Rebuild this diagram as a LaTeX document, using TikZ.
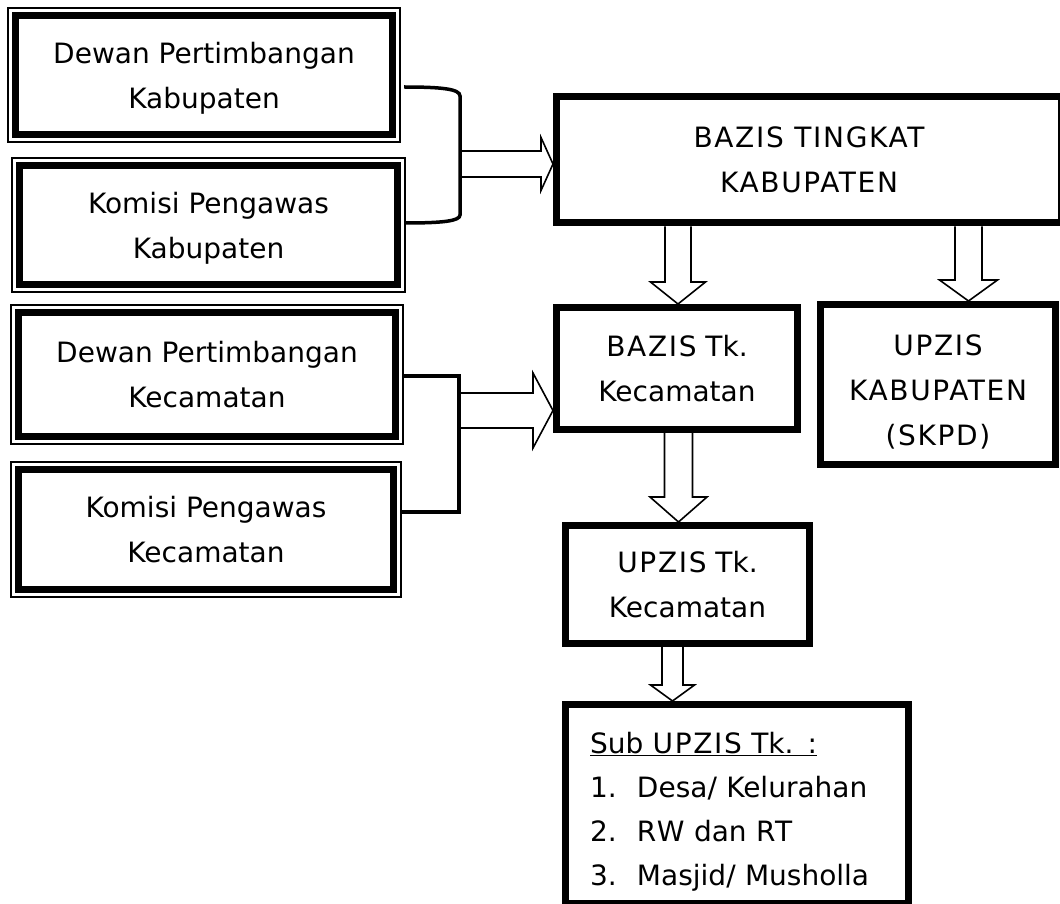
\documentclass[tikz,border=0pt]{standalone}
\usepackage{fontspec}
\setmainfont{DejaVu Sans}
\newfontfamily\hurufbesar[LetterSpace=6.0]{DejaVu Sans}
\usetikzlibrary{calc}
\tikzset{
  kotak/.style={rectangle, draw, line width=7pt, outer sep=0pt, align=center, text depth=0pt,
                font=\fontsize{28pt}{45pt}\selectfont},
  garistipis/.style={line width=1.2pt},
  kurung/.style={line width=3.5pt},
  panah/.style={line width=1.6pt, line join=miter}
}
% panah kosong ke bawah: awal, ujung, setengah batang, setengah kepala, panjang kepala
\newcommand{\panahbawah}[5]{%
  \draw[panah] ($(#2 |- #1)+(-#3,0)$) -- ($(#2)+(-#3,-#5)$) -- ($(#2)+(-#4,-#5)$) -- (#2)
    -- ($(#2)+(#4,-#5)$) -- ($(#2)+(#3,-#5)$) -- ($(#2 |- #1)+(#3,0)$);}
% panah kosong ke kanan
\newcommand{\panahkanan}[5]{%
  \draw[panah] ($(#2 -| #1)+(0,-#3)$) -- ($(#2)+(-#5,-#3)$) -- ($(#2)+(-#5,-#4)$) -- (#2)
    -- ($(#2)+(-#5,#4)$) -- ($(#2)+(-#5,#3)$) -- ($(#2 -| #1)+(0,#3)$);}

\begin{document}
\begin{tikzpicture}[x=1pt,y=-1pt]
  \useasboundingbox (0,0) rectangle (1060,904);
  % kolom kiri
  \node (dpk) [kotak, minimum width=377pt, minimum height=119pt] at (204,75) {Dewan Pertimbangan\\Kabupaten};
  \node (kpk) [kotak, minimum width=378pt, minimum height=119pt] at (208.5,225) {Komisi Pengawas\\Kabupaten};
  \node (dpc) [kotak, minimum width=377pt, minimum height=124pt] at (207,374.5) {Dewan Pertimbangan\\Kecamatan};
  \node (kpc) [kotak, minimum width=375pt, minimum height=120pt] at (206,529.5) {Komisi Pengawas\\Kecamatan};
  \foreach \n in {dpk,kpk,dpc,kpc}
    \draw[garistipis] ([shift={(-7.5pt,7.5pt)}]\n.north west) rectangle ([shift={(7.5pt,-7.5pt)}]\n.south east);
  % kolom kanan
  \node (bk) [kotak, minimum width=505pt, minimum height=126pt] at (809,160) {{\hurufbesar BAZIS TINGKAT}\\{\hurufbesar KABUPATEN}};
  \node (btk) [kotak, minimum width=241pt, minimum height=122pt] at (677,368.5) {{\hurufbesar BAZIS} Tk.\\Kecamatan};
  \node (uk) [kotak, minimum width=235pt, minimum height=160pt] at (938,384.5) {\rule{0pt}{32pt}{\hurufbesar UPZIS}\\{\hurufbesar KABUPATEN}\\{\hurufbesar (SKPD)}};
  \node (utk) [kotak, minimum width=244pt, minimum height=118pt] at (687.5,584.5) {{\hurufbesar UPZIS} Tk.\\Kecamatan};
  \node (sub) [kotak, minimum width=343pt, minimum height=199pt, text width=294pt, inner xsep=24.5pt, align=left,
               text depth=132pt, font=\fontsize{28pt}{44pt}\selectfont] at (737,804)
    {\rule{0pt}{30pt}\underline{Sub {\hurufbesar UPZIS} Tk. :}\\
     \makebox[47pt][l]{1.}Desa/ Kelurahan\\
     \makebox[47pt][l]{2.}{\hurufbesar RW} dan {\hurufbesar RT}\\
     \makebox[47pt][l]{3.}Masjid/ Musholla};
  % kurung kabupaten
  \coordinate (k1) at ([xshift=11.5pt,yshift=-12pt]dpk.east);
  \coordinate (k2) at ([xshift=7.5pt,yshift=2pt]kpk.east);
  \coordinate (kx1) at (460,164);
  \draw[kurung] (k1) .. controls ($(k1)+(38,0)$) and ($(k1 -| kx1)+(0,2)$) .. ($(k1 -| kx1)+(0,9)$)
    -- ($(k2 -| kx1)+(0,-8)$) .. controls ($(k2 -| kx1)+(0,-2)$) and ($(k2)+(38,0)$) .. (k2);
  \coordinate (u1) at ([xshift=-3.5pt,yshift=-4pt]bk.west);
  \panahkanan{kx1}{u1}{13}{26.5}{12}
  % kurung kecamatan
  \coordinate (k3) at ([xshift=7.5pt,yshift=-1.5pt]dpc.east);
  \coordinate (k4) at ([xshift=7.5pt,yshift=17.5pt]kpc.east);
  \coordinate (kx2) at (459,400);
  \draw[kurung, line join=miter] (k3) -| (k4 -| kx2) -- (k4);
  \coordinate (u2) at ([xshift=-3.5pt,yshift=-42pt]btk.west);
  \panahkanan{kx2}{u2}{17.5}{37.5}{20}
  % panah ke bawah
  \coordinate (s1) at ([yshift=-3.5pt]bk.south);
  \coordinate (t1) at ([xshift=1pt,yshift=3.5pt]btk.north);
  \panahbawah{s1}{t1}{13}{27.5}{22}
  \coordinate (t2) at ([xshift=30.5pt,yshift=3.5pt]uk.north);
  \panahbawah{s1}{t2}{13.5}{29}{21}
  \coordinate (s3) at ([yshift=-3.5pt]btk.south);
  \coordinate (t3) at ([xshift=-9pt,yshift=3.5pt]utk.north);
  \panahbawah{s3}{t3}{14}{28.5}{25}
  \coordinate (s4) at ([yshift=-3.5pt]utk.south);
  \coordinate (t4) at ([xshift=-64.5pt,yshift=3.5pt]sub.north);
  \panahbawah{s4}{t4}{10.5}{22}{16}
\end{tikzpicture}
\end{document}
